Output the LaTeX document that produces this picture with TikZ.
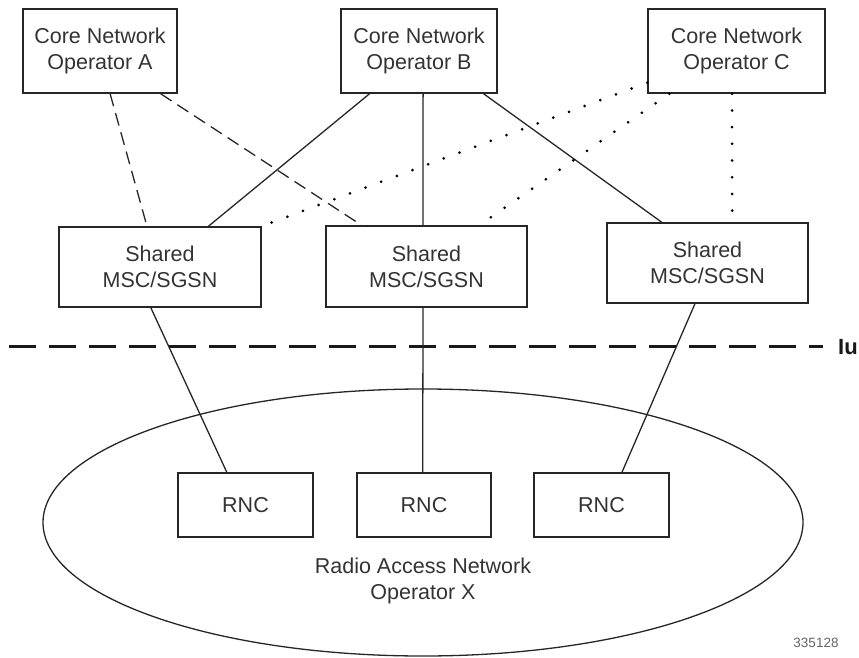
\documentclass[tikz,border=0pt]{standalone}
\usepackage{fontspec}
\setmainfont{Liberation Sans}
\usetikzlibrary{calc,shapes.geometric}
\begin{document}
\begin{tikzpicture}[x=1pt,y=-1pt,
  box/.style={draw=black!85, line width=1.5pt, rectangle, inner sep=0pt, align=center,
    font=\fontsize{21.5}{26}\selectfont, text=black!80},
  corebox/.style={box, minimum height=84pt},
  sharedbox/.style={box, minimum width=201pt, minimum height=80pt},
  rncbox/.style={box, minimum width=135pt, minimum height=64pt},
  link/.style={draw=black!85, line width=1.3pt},
  dashlink/.style={link, dash pattern=on 13pt off 7pt},
  dotlink/.style={draw=black, line width=3pt, line cap=round, dash pattern=on 0pt off 16.7pt},
  iuline/.style={draw=black!90, line width=3pt, dash pattern=on 27pt off 13pt},
]
\useasboundingbox (0,0) rectangle (859,658);

% top: core network operators
\node[corebox, minimum width=154pt] (A) at (100,51) {Core Network\\Operator A};
\node[corebox, minimum width=156pt] (B) at (419,51) {Core Network\\Operator B};
\node[corebox, minimum width=177pt] (C) at (736.5,51) {Core Network\\Operator C};

% shared MSC/SGSN
\node[sharedbox, minimum width=202pt] (S1) at (160,267) {Shared\\MSC/SGSN};
\node[sharedbox, minimum height=81pt] (S2) at (426.5,266.5) {Shared\\MSC/SGSN};
\node[sharedbox] (S3) at (707.5,263) {Shared\\MSC/SGSN};

% radio access network
\node[draw=black!85, line width=1.3pt, ellipse, inner sep=0pt,
      minimum width=760pt, minimum height=267pt] (ran) at (423,522.5) {};
\node[rncbox] (R1) at (245.5,505) {RNC};
\node[rncbox, minimum width=134pt] (R2) at (424,505) {RNC};
\node[rncbox] (R3) at (601.5,505) {RNC};
\node[align=center, inner sep=0pt, font=\fontsize{21.5}{26}\selectfont, text=black!80]
  (rantext) at (423,581) {Radio Access Network\\Operator X};

% Iu reference line
\coordinate (iuL) at (9,346);
\node[anchor=west, inner sep=0pt, font=\fontsize{22}{26}\selectfont\bfseries, text=black!90]
  (iu) at (838,347) {Iu};
\draw[iuline] (iuL) -- ($(iu.west)+(-15,-1)$);

% operator A (dashed)
\draw[dashlink] ($(A.south west)!0.565!(A.south east)$) -- ($(S1.north west)!0.436!(S1.north east)$);
\draw[dashlink] ($(A.south west)!0.89!(A.south east)$) -- ($(S2.north west)!0.179!(S2.north east)$);

% operator B (solid)
\draw[link] ($(B.south west)!0.186!(B.south east)$) -- ($(S1.north west)!0.738!(S1.north east)$);
\draw[link] ($(B.south west)!0.526!(B.south east)$) -- ($(S2.north west)!0.483!(S2.north east)$);
\draw[link] ($(B.south west)!0.91!(B.south east)$) -- ($(S3.north west)!0.274!(S3.north east)$);

% operator C (dotted)
\draw[dotlink] ($(C.north west)!0.87!(C.south west)$) -- (S1.north east);
\draw[dotlink] ($(C.south west)!0.124!(C.south east)$) -- ($(S2.north west)!0.761!(S2.north east)$);
\draw[dotlink] ($(C.south west)!0.475!(C.south east)$) -- ($(S3.north west)!0.622!(S3.north east)$);

% shared nodes to RNCs
\draw[link] ($(S1.south west)!0.455!(S1.south east)$) -- ($(R1.north west)!0.363!(R1.north east)$);
\draw[link] ($(S2.south west)!0.483!(S2.south east)$) -- ($(R2.north west)!0.49!(R2.north east)$);
\draw[link] ($(S3.south west)!0.438!(S3.south east)$) -- ($(R3.north west)!0.65!(R3.north east)$);

% figure number
\node[inner sep=0pt, font=\fontsize{13.5}{15}\selectfont, text=black!60] (num) at (816,643) {335128};
\end{tikzpicture}
\end{document}
